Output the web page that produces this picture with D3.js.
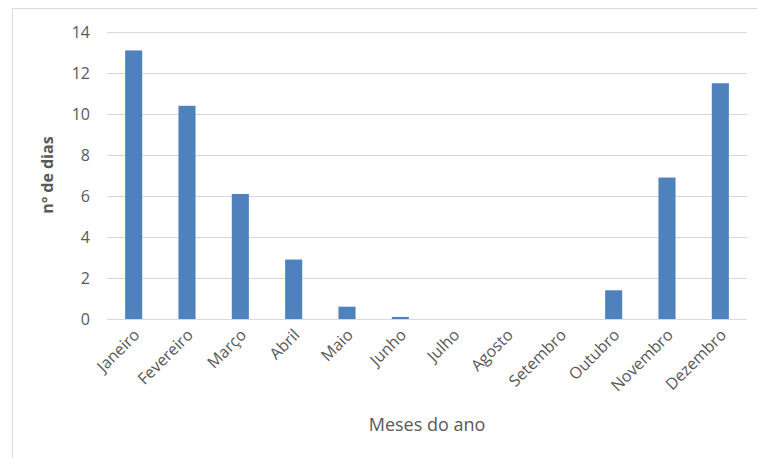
<!DOCTYPE html>
<html>
<head>
<meta charset="utf-8">
<script src="https://cdn.jsdelivr.net/npm/d3@7"></script>
<style>
  body { margin: 0; background: #fff; }
  svg text { font-family: "Open Sans", "Liberation Sans", sans-serif; fill: #595959; }
</style>
</head>
<body>
<div id="chart"></div>
<script>
"use strict";

const months = ["Janeiro", "Fevereiro", "Março", "Abril", "Maio", "Junho",
                "Julho", "Agosto", "Setembro", "Outubro", "Novembro", "Dezembro"];
const days = [13.1, 10.4, 6.1, 2.9, 0.6, 0.1, 0, 0, 0, 1.4, 6.9, 11.5];
const yTicks = [0, 2, 4, 6, 8, 10, 12, 14];

const W = 757, H = 458;
let margin = {top: 32, right: 10, bottom: 139, left: 107},
    width = 747 - margin.left,
    height = 319 - margin.top;

let svg = d3.select("#chart")
    .append("svg")
    .attr("width", W)
    .attr("height", H);

// outer frame of the chart
svg.append("rect")
    .attr("x", 12.5)
    .attr("y", 8.5)
    .attr("width", W)
    .attr("height", H)
    .attr("fill", "none")
    .attr("stroke", "#d9d9d9")
    .attr("stroke-width", 1);

let g = svg.append("g")
    .attr("transform", "translate(" + margin.left + "," + margin.top + ")");

let x = d3.scaleBand()
    .domain(months)
    .range([0, width])
    .paddingInner(0.68)
    .paddingOuter(0.34);

let y = d3.scaleLinear()
    .domain([0, 14])
    .range([height, 0]);

// gridlines
g.append("g")
    .selectAll("line")
    .data(yTicks)
    .enter()
    .append("line")
    .attr("x1", 0)
    .attr("x2", width)
    .attr("y1", d => Math.round(y(d)) + 0.5)
    .attr("y2", d => Math.round(y(d)) + 0.5)
    .attr("stroke", "#d9d9d9")
    .attr("stroke-width", 1);

// y axis labels
let yAxis = g.append("g")
    .call(d3.axisLeft(y).tickValues(yTicks).tickSize(0).tickPadding(17));
yAxis.select(".domain").remove();
yAxis.selectAll("text")
    .style("font-size", "16px")
    .attr("fill", "#595959");

// bars
g.selectAll(".bar")
    .data(days)
    .enter()
    .append("rect")
    .attr("class", "bar")
    .attr("x", (d, i) => x(months[i]))
    .attr("y", d => y(d))
    .attr("width", x.bandwidth())
    .attr("height", d => height - y(d))
    .attr("fill", "#4f81bd");

// x axis
let xAxis = g.append("g")
    .attr("transform", "translate(0," + height + ")")
    .call(d3.axisBottom(x).tickSize(0).tickPadding(0));
xAxis.select(".domain").remove();
xAxis.selectAll("text")
    .style("font-size", "16px")
    .attr("fill", "#595959")
    .style("text-anchor", "end")
    .attr("dy", 0)
    .attr("transform", "translate(7,17) rotate(-45)");

// axis titles
svg.append("text")
    .attr("transform", "translate(53,175) rotate(-90)")
    .attr("text-anchor", "middle")
    .style("font-size", "16px")
    .style("font-weight", "bold")
    .text("nº de dias");

svg.append("text")
    .attr("x", 427)
    .attr("y", 431)
    .attr("text-anchor", "middle")
    .style("font-size", "18px")
    .text("Meses do ano");
</script>
</body>
</html>
